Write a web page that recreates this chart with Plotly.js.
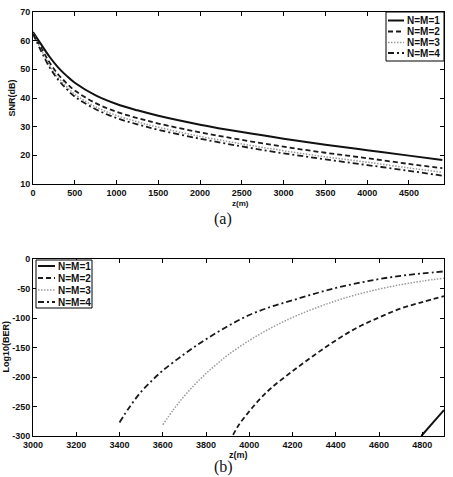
<!DOCTYPE html>
<html>
<head>
<meta charset="utf-8">
<script src="https://cdn.plot.ly/plotly-3.0.1.min.js"></script>
<style>
  html, body { margin: 0; padding: 0; background: #fff; }
  #chart { width: 453px; height: 477px; }
</style>
</head>
<body>
<div id="chart"></div>
<script>
// Series names shared by both panels
const seriesNames = ['N=M=1', 'N=M=2', 'N=M=3', 'N=M=4'];

// Panel (a): SNR (dB) against distance z (m)
const zSnr = [0, 100, 200, 300, 400, 500, 750, 1000, 1250, 1500, 2000, 2500, 3000, 3500, 4000, 4500, 4900];
const snr1 = [63.0, 58.6, 54.3, 50.7, 47.8, 45.3, 40.9, 37.9, 35.7, 33.8, 30.7, 28.1, 25.8, 23.7, 21.8, 19.9, 18.4];
const snr2 = [62.8, 57.4, 52.3, 48.3, 45.2, 42.6, 38.2, 35.2, 33.0, 31.1, 28.0, 25.4, 23.0, 20.9, 19.0, 17.0, 15.5];
const snr3 = [62.6, 56.7, 51.3, 47.2, 44.0, 41.3, 36.9, 33.9, 31.7, 29.8, 26.6, 24.0, 21.6, 19.5, 17.6, 15.6, 14.1];
const snr4 = [62.4, 56.2, 50.6, 46.4, 43.2, 40.5, 36.1, 33.0, 30.8, 28.9, 25.8, 23.1, 20.7, 18.6, 16.6, 14.6, 12.9];

// Panel (b): log10(BER) against distance z (m)
const zBer1 = [4795, 4850, 4900];
const ber1 = [-300, -277, -256];
const zBer2 = [3925, 3950, 4000, 4050, 4100, 4200, 4300, 4400, 4500, 4600, 4700, 4800, 4900];
const ber2 = [-298, -282, -258, -237, -219, -190, -163, -138, -116, -99, -84, -73, -63];
const zBer3 = [3600, 3650, 3700, 3750, 3800, 3850, 3900, 4000, 4100, 4200, 4300, 4400, 4500, 4600, 4700, 4800, 4900];
const ber3 = [-281, -255, -232, -212, -194, -178, -163, -138, -117, -99, -84, -71, -60, -51, -43.5, -37.5, -32.5];
const zBer4 = [3400, 3450, 3500, 3550, 3600, 3700, 3800, 3900, 4000, 4100, 4200, 4300, 4400, 4500, 4600, 4700, 4800, 4900];
const ber4 = [-277, -249, -225, -206, -189, -161, -136, -114, -95, -81, -70, -59, -49, -41, -34, -28.5, -24.5, -21];

// Tick labels
const snrXTicks = [0, 500, 1000, 1500, 2000, 2500, 3000, 3500, 4000, 4500];
const snrYTicks = [10, 20, 30, 40, 50, 60, 70];
const berXTicks = [3000, 3200, 3400, 3600, 3800, 4000, 4200, 4400, 4600, 4800];
const berYTicks = [0, -50, -100, -150, -200, -250, -300];
const berYText = ['0', '-50', '-100', '-150', '-200', '-250', '-300'];

const W = 453, H = 477;
const px = x => x / W;
const py = y => 1 - y / H;

// Line styles for the four configurations
const styles = [
  { color: '#111111', width: 2.0, dash: 'solid' },
  { color: '#1a1a1a', width: 1.8, dash: '5px,3px' },
  { color: '#9a9a9a', width: 1.5, dash: '1.5px,1.5px' },
  { color: '#1a1a1a', width: 1.8, dash: '6px,3px,2px,3px' }
];

const snrSets = [snr1, snr2, snr3, snr4];
const berX = [zBer1, zBer2, zBer3, zBer4];
const berY = [ber1, ber2, ber3, ber4];

const traces = [];
seriesNames.forEach((name, i) => {
  traces.push({
    x: zSnr, y: snrSets[i], name: name, mode: 'lines', type: 'scatter',
    xaxis: 'x', yaxis: 'y', showlegend: false,
    line: { color: styles[i].color, width: styles[i].width, dash: styles[i].dash, shape: 'spline', smoothing: 1 }
  });
});
seriesNames.forEach((name, i) => {
  traces.push({
    x: berX[i], y: berY[i], name: name, mode: 'lines', type: 'scatter',
    xaxis: 'x2', yaxis: 'y2', showlegend: false,
    line: { color: styles[i].color, width: styles[i].width, dash: styles[i].dash, shape: 'spline', smoothing: 1 }
  });
});

const tickFont = { family: 'Liberation Sans, Arial, sans-serif', size: 9, color: '#111', weight: 'bold' };
const axisCommon = {
  showline: true, linecolor: '#000', linewidth: 1, mirror: 'ticks',
  ticks: 'inside', ticklen: 4, tickwidth: 1, tickcolor: '#000',
  showgrid: false, zeroline: false, tickfont: tickFont, fixedrange: true
};

const shapes = [];
const annotations = [];

// Legend boxes drawn from the series names
function addLegend(box, rowsY, lineX0, lineX1, textX) {
  shapes.push({
    type: 'rect', xref: 'paper', yref: 'paper',
    x0: px(box[0]), x1: px(box[1]), y0: py(box[3]), y1: py(box[2]),
    line: { color: '#000', width: 1 }, fillcolor: '#fff', layer: 'above'
  });
  seriesNames.forEach((name, i) => {
    shapes.push({
      type: 'line', xref: 'paper', yref: 'paper',
      x0: px(lineX0), x1: px(lineX1), y0: py(rowsY[i]), y1: py(rowsY[i]),
      line: { color: styles[i].color, width: styles[i].width, dash: styles[i].dash }, layer: 'above'
    });
    annotations.push({
      xref: 'paper', yref: 'paper', x: px(textX), y: py(rowsY[i]),
      xanchor: 'left', yanchor: 'middle', showarrow: false, text: name,
      font: { family: 'Liberation Sans, Arial, sans-serif', size: 10, color: '#111', weight: 'bold' }
    });
  });
}
addLegend([386, 444, 12, 61], [20.5, 31.5, 42.5, 53], 388, 404, 405);
addLegend([36, 92, 260, 308], [266, 278, 290, 302], 38, 55, 55.5);

const titleFont = { family: 'Liberation Sans, Arial, sans-serif', size: 9, color: '#111', weight: 'bold' };
annotations.push(
  { xref: 'paper', yref: 'paper', x: px(11.5), y: py(98), text: 'SNR(dB)', textangle: -90, showarrow: false,
    xanchor: 'center', yanchor: 'middle', font: titleFont },
  { xref: 'paper', yref: 'paper', x: px(240), y: py(203), text: 'z(m)', showarrow: false,
    xanchor: 'center', yanchor: 'middle', font: { ...titleFont, size: 8 } },
  { xref: 'paper', yref: 'paper', x: px(222.5), y: py(219), text: '(a)', showarrow: false,
    xanchor: 'center', yanchor: 'middle', font: { family: 'Liberation Serif, Times New Roman, serif', size: 16, color: '#111' } },
  { xref: 'paper', yref: 'paper', x: px(5.5), y: py(347), text: 'Log10(BER)', textangle: -90, showarrow: false,
    xanchor: 'center', yanchor: 'middle', font: titleFont },
  { xref: 'paper', yref: 'paper', x: px(238), y: py(454.5), text: 'z(m)', showarrow: false,
    xanchor: 'center', yanchor: 'middle', font: titleFont },
  { xref: 'paper', yref: 'paper', x: px(223.5), y: py(467), text: '(b)', showarrow: false,
    xanchor: 'center', yanchor: 'middle', font: { family: 'Liberation Serif, Times New Roman, serif', size: 16, color: '#111' } }
);

const layout = {
  width: W, height: H,
  margin: { l: 0, r: 0, t: 0, b: 0 },
  paper_bgcolor: '#fff', plot_bgcolor: '#fff',
  showlegend: false,
  xaxis: { ...axisCommon, domain: [px(33), px(444)], range: [0, 4920], anchor: 'y',
           tickmode: 'array', tickvals: snrXTicks },
  yaxis: { ...axisCommon, domain: [py(184), py(12)], range: [10, 70], anchor: 'x',
           tickmode: 'array', tickvals: snrYTicks },
  xaxis2: { ...axisCommon, domain: [px(33), px(444)], range: [3000, 4900], anchor: 'y2',
            tickmode: 'array', tickvals: berXTicks },
  yaxis2: { ...axisCommon, domain: [py(436), py(259)], range: [-300, 0], anchor: 'x2',
            tickmode: 'array', tickvals: berYTicks, ticktext: berYText },
  shapes: shapes,
  annotations: annotations
};

Plotly.newPlot('chart', traces, layout, { displayModeBar: false, staticPlot: true });
</script>
</body>
</html>
